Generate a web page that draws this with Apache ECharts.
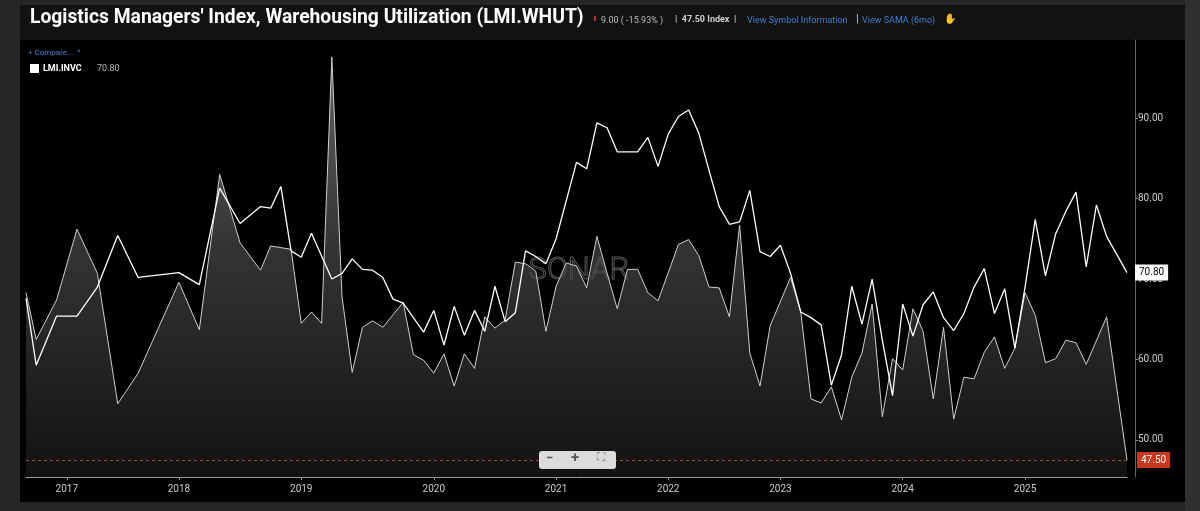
<!DOCTYPE html>
<html><head><meta charset="utf-8">
<script src="https://cdn.jsdelivr.net/npm/echarts@6/dist/echarts.min.js"></script>
<style>html,body{margin:0;padding:0;background:#262626;}#c{width:1200px;height:511px;}</style>
</head><body><div id="c"></div>
<script>
const yearLabels = {4:'2017',15:'2018',27:'2019',40:'2020',52:'2021',63:'2022',74:'2023',86:'2024',98:'2025'};
const categories = Array.from({length:109},(_,i)=>yearLabels[i]||'');
const whut = [
 68.3,62.5,null,67.4,null,76.2,null,70.7,null,54.5,
 null,58.3,null,null,null,69.6,null,63.7,null,83.0,
 null,74.5,null,71.1,74.1,null,73.7,64.5,65.9,64.5,
 97.6,67.8,58.4,64.0,64.8,64.0,null,67.1,60.6,59.9,
 58.3,60.7,56.7,60.7,58.9,65.3,63.9,64.9,72.1,71.9,
 71.0,63.5,69.1,72.0,71.6,68.9,75.3,70.7,66.3,71.2,
 71.2,68.3,67.3,null,74.3,74.9,72.9,69.0,68.9,65.3,
 76.7,60.8,56.7,64.2,null,70.2,65.9,55.1,54.6,56.6,
 52.5,57.8,60.8,66.9,52.9,60.1,58.7,66.3,63.5,55.1,
 64.0,52.6,57.8,57.6,60.9,62.8,58.9,61.4,68.3,65.5,
 59.6,60.1,62.4,62.1,59.4,null,65.3,null,47.5];
const invc = [
 67.6,59.3,null,65.4,null,65.4,null,69.0,null,75.4,
 null,70.2,null,null,null,70.8,null,69.3,null,81.3,
 null,76.9,null,79.0,78.8,81.5,73.5,72.7,75.7,null,
 70.0,70.7,72.5,71.2,71.1,70.2,67.5,67.0,65.2,63.4,
 66.1,61.8,66.6,63.0,66.1,63.5,69.1,64.7,65.8,73.5,
 72.8,71.9,75.0,null,84.5,83.7,89.4,88.8,85.8,85.8,
 85.8,87.6,84.0,88.0,90.2,91.0,88.1,83.5,79.0,76.8,
 77.1,81.0,73.4,72.8,74.2,70.7,65.9,65.2,64.3,56.8,
 60.6,69.1,64.4,70.0,62.4,55.5,66.9,62.9,66.8,68.4,
 65.2,63.6,65.7,69.0,71.3,65.7,68.8,61.4,69.0,77.4,
 70.4,75.6,78.4,80.8,71.5,79.2,75.3,null,70.8];
const yTicks = [50,60,70,80,90];
const font = 'Roboto, "Open Sans", sans-serif';
const chart = echarts.init(document.getElementById('c'));
chart.setOption({
  backgroundColor:'#262626',
  animation:false,
  graphic:[
    {type:'rect',z:-10,shape:{x:20,y:40,width:1165,height:462},style:{fill:'#000'}},
    {type:'rect',z:-10,shape:{x:20,y:5,width:1165,height:35},style:{fill:'#121212'}},
    {type:'rect',z:-10,shape:{x:1185,y:0,width:15,height:511},style:{fill:'#303030'}},
    {type:'text',left:30,top:9,style:{text:"Logistics Managers' Index, Warehousing Utilization (LMI.WHUT)",fill:'#fff',font:'bold 19.3px '+font}},
    {type:'text',left:592,top:16,style:{text:'⬇',fill:'#d33',font:'7px '+font}},
    {type:'text',left:601,top:16,style:{text:'9.00 ( -15.93% )',fill:'#bbb',font:'9px '+font}},
    {type:'text',left:675,top:15,style:{text:'|  47.50 Index  |',fill:'#ccc',font:'bold 9px '+font}},
    {type:'text',left:747,top:16,style:{text:'View Symbol Information',fill:'#3d7fd0',font:'9px '+font}},
    {type:'text',left:856,top:14,style:{text:'|',fill:'#ccc',font:'11px '+font}},
    {type:'text',left:862,top:16,style:{text:'View SAMA (6mo)',fill:'#3d7fd0',font:'9px '+font}},
    {type:'text',left:944,top:14,style:{text:'✋',fill:'#e0c020',font:'10px '+font}},
    {type:'text',left:28,top:49,style:{text:'+ Compare...  ^',fill:'#4a86d8',font:'8px '+font}},
    {type:'rect',shape:{x:30,y:64,width:9,height:9},style:{fill:'#fff'}},
    {type:'text',left:43,top:64,style:{text:'LMI.INVC',fill:'#fff',font:'bold 9px '+font}},
    {type:'text',left:97,top:64,style:{text:'70.80',fill:'#bbb',font:'9px '+font}},
    {type:'text',left:528,top:255,z:1,style:{text:'SONAR',fill:'rgba(0,0,0,0)',stroke:'#5a5a5a',lineWidth:1,font:'300 31px '+font}},
    {type:'rect',left:539,top:451,z:20,shape:{width:77,height:18,r:3},style:{fill:'#dcdcdc'}},
    {type:'text',left:546,top:452,z:21,style:{text:'−',fill:'#555',font:'bold 13px '+font}},
    {type:'text',left:571,top:451,z:21,style:{text:'+',fill:'#555',font:'bold 15px '+font}},
    {type:'text',left:597,top:452,z:21,style:{text:'⛶',fill:'#777',font:'12px '+font}}
  ],
  grid:{left:26,right:73,top:40,bottom:34},
  xAxis:{type:'category',data:categories,boundaryGap:false,
    axisLine:{lineStyle:{color:'#999'}},
    axisTick:{interval:(i,v)=>v!=='',length:3,lineStyle:{color:'#888'}},
    axisLabel:{interval:(i,v)=>v!=='',color:'#ccc',fontSize:10,fontFamily:font,margin:7},
    splitLine:{show:false}},
  yAxis:{type:'value',position:'right',min:45.4,max:99.7,offset:8,
    axisLine:{show:true,lineStyle:{color:'#666'}},
    axisTick:{show:true,length:3,customValues:yTicks,lineStyle:{color:'#888'}},
    axisLabel:{customValues:yTicks,formatter:v=>v.toFixed(2),color:'#ccc',fontSize:10,fontFamily:font,margin:3},
    splitLine:{show:false}},
  series:[
    {type:'line',name:'LMI.WHUT',data:whut,connectNulls:true,symbol:'none',z:2,
     lineStyle:{color:'#cfcfcf',width:1},
     areaStyle:{color:new echarts.graphic.LinearGradient(0,0,0,1,[{offset:0,color:'#8c8c8c'},{offset:0.45,color:'#4a4a4a'},{offset:1,color:'#1a1a1a'}])},
     markLine:{symbol:'none',silent:true,lineStyle:{color:'#9a4a30',type:[3,3],width:1},
       label:{position:'end',formatter:'47.50',color:'#fff',backgroundColor:'#c8381c',padding:[3,4],fontSize:10,fontFamily:font,distance:10},
       data:[{yAxis:47.5}]}},
    {type:'line',name:'LMI.INVC',data:invc,connectNulls:true,symbol:'none',z:3,
     lineStyle:{color:'#fff',width:1.3},
     endLabel:{show:true,formatter:'70.80',color:'#000',backgroundColor:'#fff',padding:[3,4],fontSize:10,fontFamily:font,distance:8}}
  ]
});
</script></body></html>
